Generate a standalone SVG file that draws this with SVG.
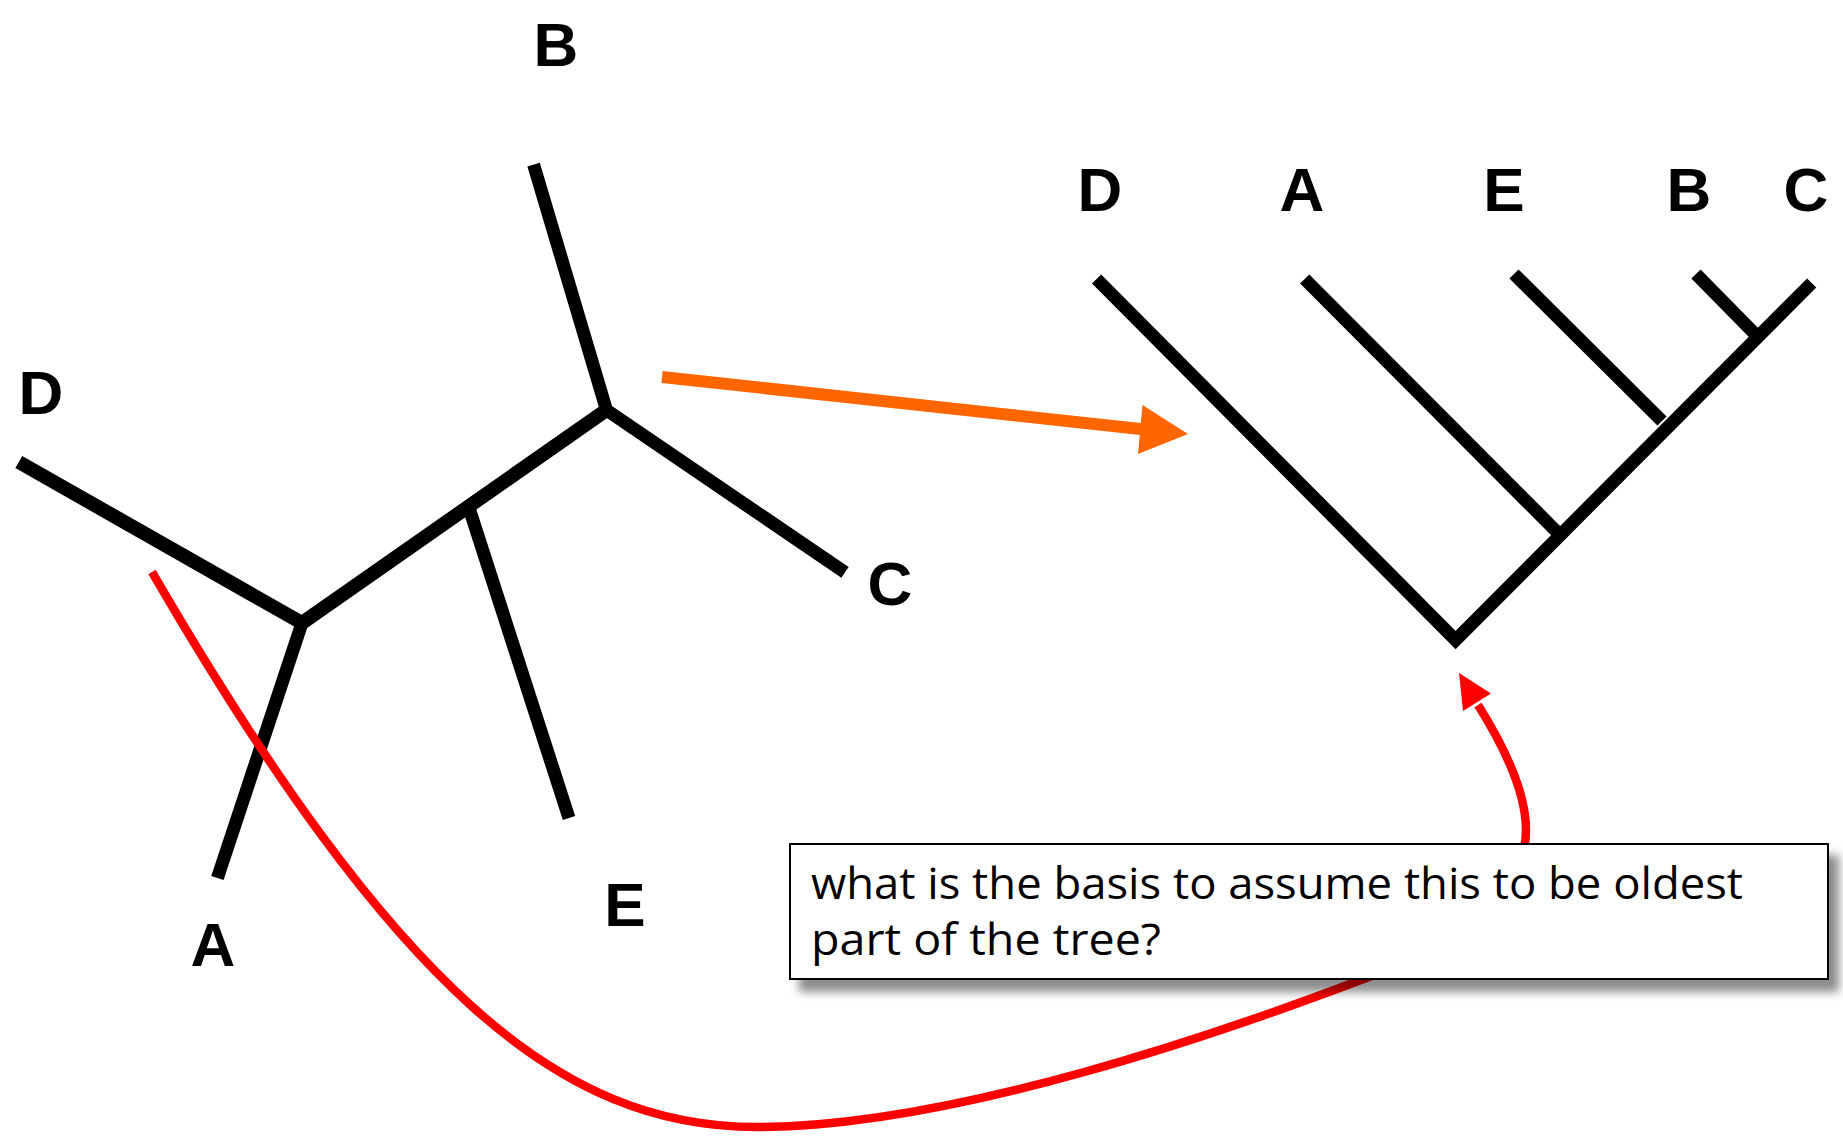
<svg xmlns="http://www.w3.org/2000/svg" width="1843" height="1138" viewBox="0 0 1843 1138">
<style>
.lbl{font-family:"Liberation Sans",Arial,sans-serif;font-weight:bold;font-size:62px;fill:#000;text-anchor:middle}
.br{fill:none;stroke:#000;stroke-linecap:butt;stroke-linejoin:miter;stroke-miterlimit:10}
.note{font-family:"Open Sans","Noto Sans",sans-serif;font-size:44px;fill:#000}
</style>
<defs>
<filter id="shadow" x="-5%" y="-20%" width="115%" height="150%">
<feDropShadow dx="10" dy="12" stdDeviation="5" flood-color="#000" flood-opacity="0.45"/>
</filter>
</defs>
<rect width="1843" height="1138" fill="#fff"/>
<g id="unrooted-tree">
<polyline class="br" stroke-width="14" points="18.8,462 302,623"/>
<polyline class="br" stroke-width="14" points="302,623 606.5,410"/>
<polyline class="br" stroke-width="13" points="533.6,164.6 606.5,410 845,572.4"/>
<line class="br" stroke-width="13" x1="470" y1="511" x2="569" y2="818"/>
<line class="br" stroke-width="13" x1="302" y1="623" x2="217.4" y2="878"/>
</g>
<g id="label-B-left"><text class="lbl" x="556" y="66">B</text></g>
<g id="label-D-left"><text class="lbl" x="41" y="414">D</text></g>
<g id="label-C-left"><text class="lbl" x="890" y="605">C</text></g>
<g id="label-A-left"><text class="lbl" x="213" y="966">A</text></g>
<g id="label-E-left"><text class="lbl" x="625" y="926">E</text></g>
<g id="rooted-tree">
<polyline class="br" stroke-width="13" points="1096.6,279 1455.6,640 1811.7,283"/>
<line class="br" stroke-width="13" x1="1304.7" y1="279" x2="1557" y2="532"/>
<line class="br" stroke-width="13" x1="1514" y1="274" x2="1662" y2="421"/>
<line class="br" stroke-width="13" x1="1696" y1="274" x2="1755" y2="334"/>
</g>
<g id="label-D-right"><text class="lbl" x="1100" y="211">D</text></g>
<g id="label-A-right"><text class="lbl" x="1302" y="211">A</text></g>
<g id="label-E-right"><text class="lbl" x="1504" y="211">E</text></g>
<g id="label-B-right"><text class="lbl" x="1689" y="211">B</text></g>
<g id="label-C-right"><text class="lbl" x="1806" y="211">C</text></g>
<g id="connectors">
<g id="orange-arrow">
<line x1="662" y1="377" x2="1145" y2="429.5" stroke="#FF6600" stroke-width="12"/>
<polygon points="1142.5,405 1188,434 1138,454" fill="#FF6600"/>
</g>
<g id="red-arrow">
<path d="M152,572 C395,990 560,1127 757,1127 C950,1127 1220,1035 1400,965 C1480,934 1526,880 1526,830 C1526,790 1500,740 1478,705" fill="none" stroke="#FF0000" stroke-width="8.5"/>
<polygon points="1459,673 1491,693.5 1463,711" fill="#FF0000"/>
</g>
</g>
<g id="note">
<rect x="790" y="844" width="1038" height="135" fill="#fff" stroke="#000" stroke-width="2" filter="url(#shadow)"/>
<text class="note" x="811" y="899" textLength="932" lengthAdjust="spacingAndGlyphs">what is the basis to assume this to be oldest</text>
<text class="note" x="811" y="955" textLength="350" lengthAdjust="spacingAndGlyphs">part of the tree?</text>
</g>
</svg>
